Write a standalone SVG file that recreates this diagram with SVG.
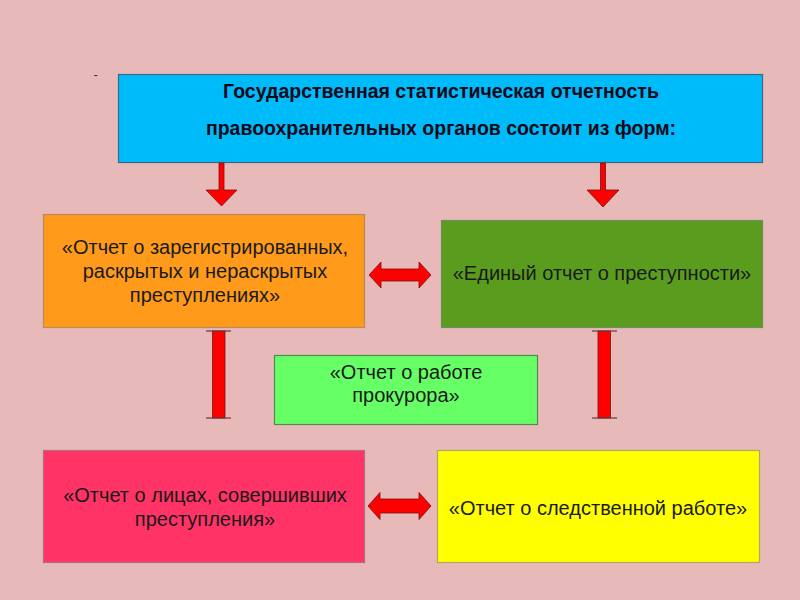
<svg xmlns="http://www.w3.org/2000/svg" width="800" height="600" viewBox="0 0 800 600">
<style>
  .box { stroke-width: 1.2; }
  .t { font-family: "Liberation Sans", Arial, sans-serif; font-size: 20px; fill: #1a1a1a; text-anchor: middle; }
  .tb { font-family: "Liberation Sans", Arial, sans-serif; font-size: 19.5px; font-weight: bold; fill: #0a0a1a; text-anchor: middle; }
  .arr { fill: #FF0000; stroke: #7a1010; stroke-width: 0.8; stroke-linejoin: miter; }
  .cap { stroke: #6a3a3a; stroke-width: 1.2; }
</style>
<rect x="0" y="0" width="800" height="600" fill="#E7B9B8"/>
<text x="93.5" y="79" font-family="Liberation Sans, Arial, sans-serif" font-size="13" fill="#333355">-</text>

<g id="top">
  <rect class="box" x="118.5" y="74.5" width="644" height="88" fill="#00BBFA" stroke="#3a6a88"/>
  <text class="tb" x="441" y="98">Государственная статистическая отчетность</text>
  <text class="tb" x="441" y="135">правоохранительных органов состоит из форм:</text>
</g>

<g id="reg">
  <rect class="box" x="43.5" y="214.5" width="321" height="113" fill="#FF9A1A" stroke="#b98a5a"/>
  <text class="t" x="205" y="254">«Отчет о зарегистрированных,</text>
  <text class="t" x="205" y="278">раскрытых и нераскрытых</text>
  <text class="t" x="205" y="302">преступлениях»</text>
</g>

<g id="edin">
  <rect class="box" x="441.5" y="220.5" width="321" height="107" fill="#5A9C1E" stroke="#6f8f5a"/>
  <text class="t" x="602" y="280">«Единый отчет о преступности»</text>
</g>

<g id="prok">
  <rect class="box" x="274.5" y="355.5" width="263" height="69" fill="#66FF66" stroke="#4f8a4f"/>
  <text class="t" x="406" y="379">«Отчет о работе</text>
  <text class="t" x="406" y="402">прокурора»</text>
</g>

<g id="lica">
  <rect class="box" x="43.5" y="450.5" width="321" height="112" fill="#FF3366" stroke="#b07080"/>
  <text class="t" x="205" y="502">«Отчет о лицах, совершивших</text>
  <text class="t" x="205" y="526">преступления»</text>
</g>

<g id="sled">
  <rect class="box" x="437.5" y="450.5" width="322" height="112" fill="#FFFF00" stroke="#b0a860"/>
  <text class="t" x="598" y="515">«Отчет о следственной работе»</text>
</g>

<g id="connectors">
  <path class="arr" d="M219,163 L224,163 L224,190 L237,190 L221.5,206 L206,190 L219,190 Z"/>
  <path class="arr" d="M600.5,163 L605.5,163 L605.5,190 L619,190 L603,207 L587,190 L600.5,190 Z"/>
  <path class="arr" d="M369,275 L381,262 L381,269 L419,269 L419,262 L431,275 L419,288 L419,281 L381,281 L381,288 Z"/>
  <path class="arr" d="M368,506 L380,492.5 L380,499 L419,499 L419,492.5 L431,506 L419,519.5 L419,513 L380,513 L380,519.5 Z"/>
  <rect class="arr" x="212.5" y="331" width="12.5" height="87"/>
  <line class="cap" x1="206" y1="331" x2="231" y2="331"/>
  <line class="cap" x1="206" y1="418" x2="231" y2="418"/>
  <rect class="arr" x="598" y="331" width="12.5" height="87"/>
  <line class="cap" x1="592" y1="331" x2="617" y2="331"/>
  <line class="cap" x1="592" y1="418" x2="617" y2="418"/>
</g>
</svg>
